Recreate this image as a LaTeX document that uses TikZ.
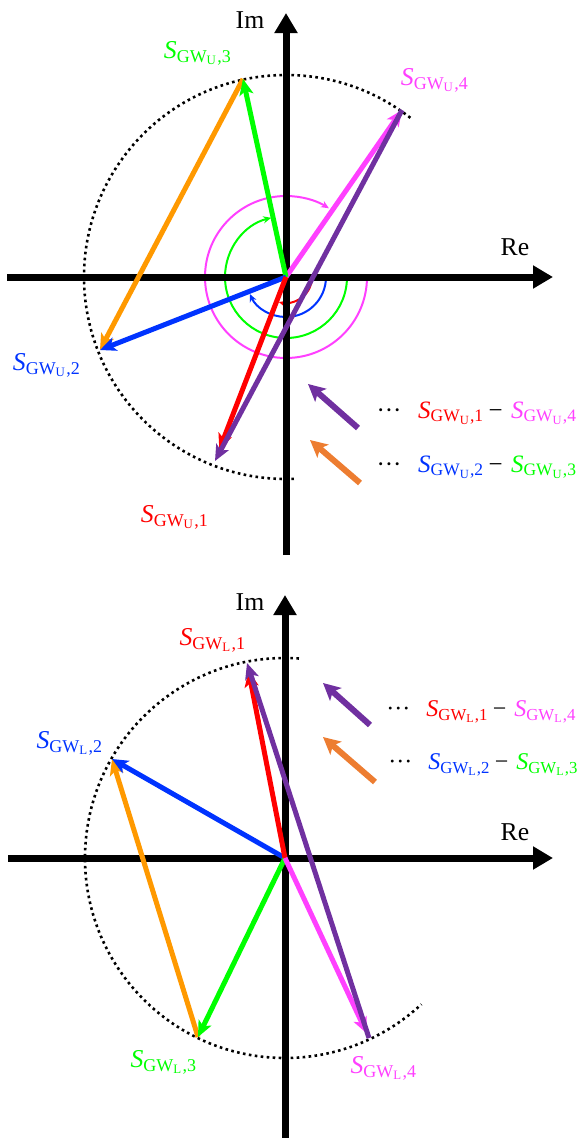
\documentclass[tikz,border=0pt]{standalone}
\usepackage{amsmath}
\usepackage{fontspec}
\setmainfont{Liberation Serif}
\usetikzlibrary{arrows.meta}
\definecolor{cRed}{RGB}{255,0,0}
\definecolor{cBlue}{RGB}{0,51,255}
\definecolor{cGreen}{RGB}{0,255,0}
\definecolor{cMag}{RGB}{255,64,255}
\definecolor{cOra}{RGB}{255,153,0}
\definecolor{cOraL}{RGB}{237,125,49}
\definecolor{cPur}{RGB}{112,48,160}
\newcommand{\sgwu}[1]{\textit{S}_{\text{GW}_{\text{U}}\text{,#1}}}
\newcommand{\sgwl}[1]{\textit{S}_{\text{GW}_{\text{L}}\text{,#1}}}
\newcommand{\legdots}{\text{\textperiodcentered\textperiodcentered\textperiodcentered}\mkern12mu}
\newcommand{\legminus}{\mkern3mu\text{−}\mkern6mu}
\begin{document}
\begin{tikzpicture}[x=1pt,y=1pt,
  axisline/.style={line width=7pt, -{Triangle[length=20pt,width=22pt]}},
  vec/.style={line width=5pt, -{Stealth[length=16pt,width=14pt,inset=4pt]}},
  legarrow/.style={line width=6pt, -{Stealth[length=17pt,width=17pt,inset=4pt]}},
  anglearc/.style={line width=2pt, -{Stealth[length=8pt,width=7pt]}},
  dotcircle/.style={line width=2.6pt, dash pattern=on 2.6pt off 3.4pt},
  lbl/.style={font=\normalsize, scale=2.57, inner sep=0pt},
  leglbl/.style={font=\normalsize, scale=2.5, inner sep=0pt, anchor=west},
]
\useasboundingbox (0,0) rectangle (577,-1138);
% ---------------- upper diagram ----------------
\begin{scope}[shift={(286,-277)}]
  \coordinate (OU) at (0,0);
  \coordinate (UxL) at (-279,0);
  \coordinate (UxR) at (267,0);
  \coordinate (UyB) at (0,-278);
  \coordinate (UyT) at (0,264);
  \coordinate (U1) at (-71,-184);
  \coordinate (U2) at (-186,-73);
  \coordinate (U3) at (-43,198);
  \coordinate (U4) at (116,167);
  % dotted circle
  \draw[dotcircle] (52:202) arc[start angle=52, end angle=273, radius=202];
  % angle arcs
  \draw[anglearc, cMag] (0:81) arc[start angle=0, end angle=-302, radius=81];
  \draw[anglearc, cGreen] (0:61) arc[start angle=0, end angle=-256, radius=61];
  \draw[anglearc, cBlue] (0:40) arc[start angle=0, end angle=-155, radius=40];
  \draw[anglearc, cRed] (0:26) arc[start angle=0, end angle=-106, radius=26];
  % axes
  \draw[axisline] (UxL) -- (UxR);
  \draw[axisline] (UyB) -- (UyT);
  \node[lbl] (UIm) at (-36,257) {Im};
  \node[lbl] (URe) at (229,30) {Re};
  % vectors
  \draw[vec, cOra] (U3) -- (U2);
  \draw[vec, cMag] (OU) -- (U4);
  \draw[vec, cGreen] (OU) -- (U3);
  \draw[vec, cBlue] (OU) -- (U2);
  \draw[vec, cRed, shorten >=12pt] (OU) -- (U1);
  \draw[vec, cPur] (U4) -- (U1);
  % labels
  \node[lbl, text=cGreen] (lU3) at (-88,224) {$\sgwu{3}$};
  \node[lbl, text=cMag] (lU4) at (149,197) {$\sgwu{4}$};
  \node[lbl, text=cBlue] (lU2) at (-239,-88) {$\sgwu{2}$};
  \node[lbl, text=cRed] (lU1) at (-111,-240) {$\sgwu{1}$};
  % legend
  \coordinate (UlegPt) at (72,-151);
  \coordinate (UlegPh) at (22,-107);
  \coordinate (UlegOt) at (74,-206);
  \coordinate (UlegOh) at (24,-163);
  \draw[legarrow, cPur] (UlegPt) -- (UlegPh);
  \draw[legarrow, cOraL] (UlegOt) -- (UlegOh);
  \node[leglbl] (UlegT1) at (90,-136) {$\legdots{\color{cRed}\sgwu{1}}\legminus{\color{cMag}\sgwu{4}}$};
  \node[leglbl] (UlegT2) at (90,-190) {$\legdots{\color{cBlue}\sgwu{2}}\legminus{\color{cGreen}\sgwu{3}}$};
\end{scope}
% ---------------- lower diagram ----------------
\begin{scope}[shift={(285,-858)}]
  \coordinate (OL) at (0,0);
  \coordinate (LxL) at (-277,0);
  \coordinate (LxR) at (268,0);
  \coordinate (LyB) at (0,-282);
  \coordinate (LyT) at (0,263);
  \coordinate (L1) at (-38,195);
  \coordinate (L2) at (-173,99);
  \coordinate (L3) at (-87,-179);
  \coordinate (L4) at (84,-180);
  % dotted circle
  \draw[dotcircle] (86:200) arc[start angle=86, end angle=313, radius=200];
  % axes
  \draw[axisline] (LxL) -- (LxR);
  \draw[axisline] (LyB) -- (LyT);
  \node[lbl] (LIm) at (-35,256) {Im};
  \node[lbl] (LRe) at (230,26) {Re};
  % vectors
  \draw[vec, cOra] (L3) -- (L2);
  \draw[vec, cBlue] (OL) -- (L2);
  \draw[vec, cGreen] (OL) -- (L3);
  \draw[vec, cRed, shorten >=8pt] (OL) -- (L1);
  \draw[vec, cMag, shorten >=5pt] (OL) -- (L4);
  \draw[vec, cPur] (L4) -- (L1);
  % labels
  \node[lbl, text=cRed] (lL1) at (-72,218) {$\sgwl{1}$};
  \node[lbl, text=cBlue] (lL2) at (-215,115) {$\sgwl{2}$};
  \node[lbl, text=cGreen] (lL3) at (-121,-204) {$\sgwl{3}$};
  \node[lbl, text=cMag] (lL4) at (99,-210) {$\sgwl{4}$};
  % legend
  \coordinate (LlegPt) at (85,133);
  \coordinate (LlegPh) at (38,175);
  \coordinate (LlegOt) at (90,76);
  \coordinate (LlegOh) at (38,121);
  \draw[legarrow, cPur] (LlegPt) -- (LlegPh);
  \draw[legarrow, cOraL] (LlegOt) -- (LlegOh);
  \node[leglbl, scale=0.96] (LlegT1) at (101,146) {$\legdots{\color{cRed}\sgwl{1}}\legminus{\color{cMag}\sgwl{4}}$};
  \node[leglbl, scale=0.96] (LlegT2) at (103,93) {$\legdots{\color{cBlue}\sgwl{2}}\legminus{\color{cGreen}\sgwl{3}}$};
\end{scope}
\end{tikzpicture}
\end{document}
